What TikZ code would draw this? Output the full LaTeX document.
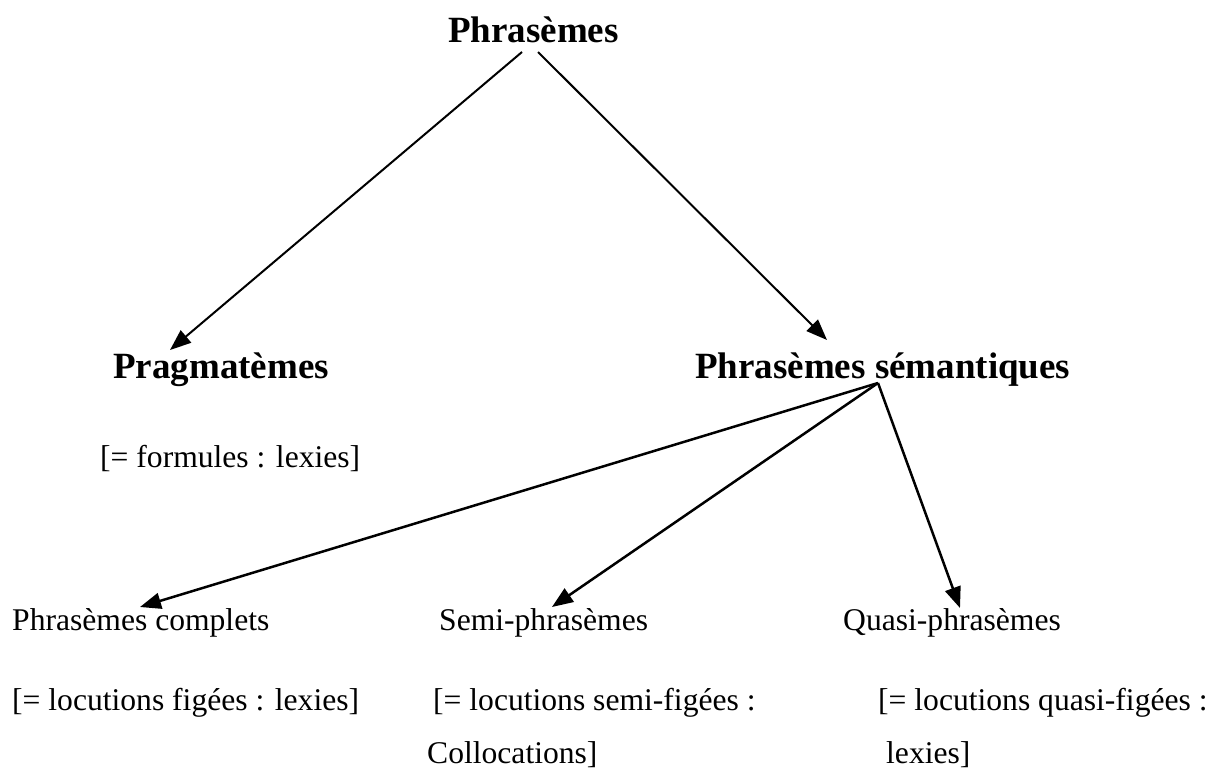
\documentclass[tikz,border=0pt]{standalone}
\usepackage{fontspec}
\setmainfont{Liberation Serif}
\usetikzlibrary{arrows.meta}
\tikzset{
  head/.style={font=\fontsize{37}{44}\selectfont\bfseries, anchor=base west, inner sep=0pt},
  leaf/.style={font=\fontsize{31.6}{38}\selectfont, anchor=base west, inner sep=0pt},
  link/.style={line width=2pt, -{Triangle[length=21pt,width=16pt]}},
  sublink/.style={link, line width=2.5pt},
}
\begin{document}
\begin{tikzpicture}[x=1pt,y=-1pt]
\useasboundingbox (0,0) rectangle (1220,770);
\node[head] (phr) at (448,43) {Phrasèmes};
\node[head] (prag) at (113,378) {Pragmatèmes};
\node[head] (sem) at (695,378) {Phrasèmes sémantiques};
\node[leaf] (form) at (100,467) {[= formules : lexies]};
\node[leaf] (comp) at (12,630) {Phrasèmes complets};
\node[leaf] (semi) at (439,630) {Semi-phrasèmes};
\node[leaf] (quasi) at (843,630) {Quasi-phrasèmes};
\node[leaf] (compd) at (12,710) {[= locutions figées : lexies]};
\node[leaf] (semid) at (433,710) {[= locutions semi-figées :};
\node[leaf] (semie) at (427,763) {Collocations]};
\node[leaf] (quasid) at (878,710) {[= locutions quasi-figées :};
\node[leaf] (quasie) at (886,763) {lexies]};
\coordinate (phrL) at (522,52);
\coordinate (phrR) at (538,52);
\coordinate (pragT) at (170,350);
\coordinate (semT) at (827,340);
\coordinate (semB) at (878,383);
\coordinate (compT) at (140,607);
\coordinate (semiT) at (552,607);
\coordinate (quasiT) at (960,608);
\draw[link] (phrL) -- (pragT);
\draw[link] (phrR) -- (semT);
\draw[sublink] (semB) -- (compT);
\draw[sublink] (semB) -- (semiT);
\draw[sublink] (semB) -- (quasiT);
\end{tikzpicture}
\end{document}
